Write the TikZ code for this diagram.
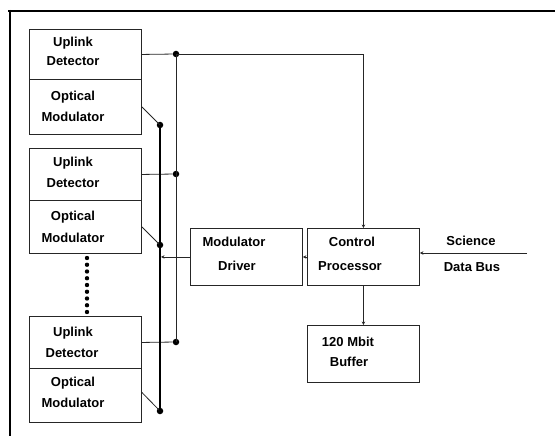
\documentclass[tikz,border=0pt]{standalone}
\usepackage{fontspec}
\setmainfont{Liberation Sans}
\usetikzlibrary{arrows.meta}
\begin{document}
\begin{tikzpicture}[x=1pt,y=-1pt,
  blk/.style={draw=black!85,line width=0.9pt,minimum width=112pt,inner sep=0pt,anchor=north west},
  txt/.style={font=\fontsize{13}{13}\selectfont\bfseries,inner sep=0pt},
  jn/.style={circle,fill=black,inner sep=0pt,minimum size=6.5pt},
  wire/.style={line width=0.8pt,black!85},
  bus/.style={line width=1.8pt,black},
  tip/.style={-{Stealth[length=3.5pt,width=3.5pt]}}]
\useasboundingbox (0,0) rectangle (555,436);
% frame
\draw[line width=2.5pt] (8,11) -- (555,11);
\draw[line width=1.5pt] (10,10) -- (10,436);
% left boxes
\node[blk,minimum height=50pt] (ud1) at (29,29) {};
\node[blk,minimum height=55pt] (om1) at (29,79) {};
\node[blk,minimum height=52pt] (ud2) at (29,148) {};
\node[blk,minimum height=53pt] (om2) at (29,200) {};
\node[blk,minimum height=52pt] (ud3) at (29,316) {};
\node[blk,minimum height=54pt] (om3) at (29,368) {};
% right boxes
\node[blk,minimum height=57pt] (md) at (190,228) {};
\node[blk,minimum height=57pt] (cp) at (307,228) {};
\node[blk,minimum height=57pt] (buf) at (307,325) {};
% texts
\node[txt] (t1a) at (73,43) {Uplink};
\node[txt] (t1b) at (73,61) {Detector};
\node[txt] (t2a) at (73,97) {Optical};
\node[txt] (t2b) at (73,117) {Modulator};
\node[txt] (t3a) at (73,163) {Uplink};
\node[txt] (t3b) at (73,183) {Detector};
\node[txt] (t4a) at (73,217) {Optical};
\node[txt] (t4b) at (73,238) {Modulator};
\node[txt] (t5a) at (73,333) {Uplink};
\node[txt] (t5b) at (72,353) {Detector};
\node[txt] (t6a) at (73,383) {Optical};
\node[txt] (t6b) at (73,403) {Modulator};
\node[txt] (t7a) at (234,242) {Modulator};
\node[txt] (t7b) at (237,266) {Driver};
\node[txt] (t8a) at (352,242) {Control};
\node[txt] (t8b) at (350,266) {Processor};
\node[txt] (t9a) at (348,342) {120 Mbit};
\node[txt] (t9b) at (349,362) {Buffer};
\node[txt] (t10a) at (471,241) {Science};
\node[txt] (t10b) at (472,267) {Data Bus};
% junctions
\node[jn] (j1) at (176,54) {};
\node[jn] (j2) at (176,174) {};
\node[jn] (j3) at (176,342) {};
\node[jn] (k1) at (160,125) {};
\node[jn] (k2) at (160,245) {};
\node[jn] (k3) at (160,411) {};
% detector bus
\draw[wire] (ud1.east) -- (j1);
\draw[wire] (ud2.east) -- (j2);
\draw[wire] (ud3.east) -- (j3);
\draw[wire] (j1.center) -- (j3.center);
\draw[wire,tip] (j1.center) -| (cp.north);
% modulator bus
\draw[wire] (om1.east) -- (k1.center);
\draw[wire] (om2.east) -- (k2.center);
\draw[wire] ([yshift=3pt]om3.east) -- (k3.center);
\draw[bus] (k1.center) -- (k3.center);
% driver and processor links
\coordinate (mdb) at (161,257);
\draw[wire,tip] (md.west) -- (md.west -| mdb);
\draw[wire,tip] (cp.west) -- (md.east);
\coordinate (sdb) at (527,253);
\draw[wire,tip] (sdb) -- (cp.east |- sdb);
\draw[wire,tip] (cp.south) -- (buf.north);
% ellipsis dots
\foreach \i in {0,...,8} \fill (87,258+\i*6.75) circle (2.2pt);
\end{tikzpicture}
\end{document}
